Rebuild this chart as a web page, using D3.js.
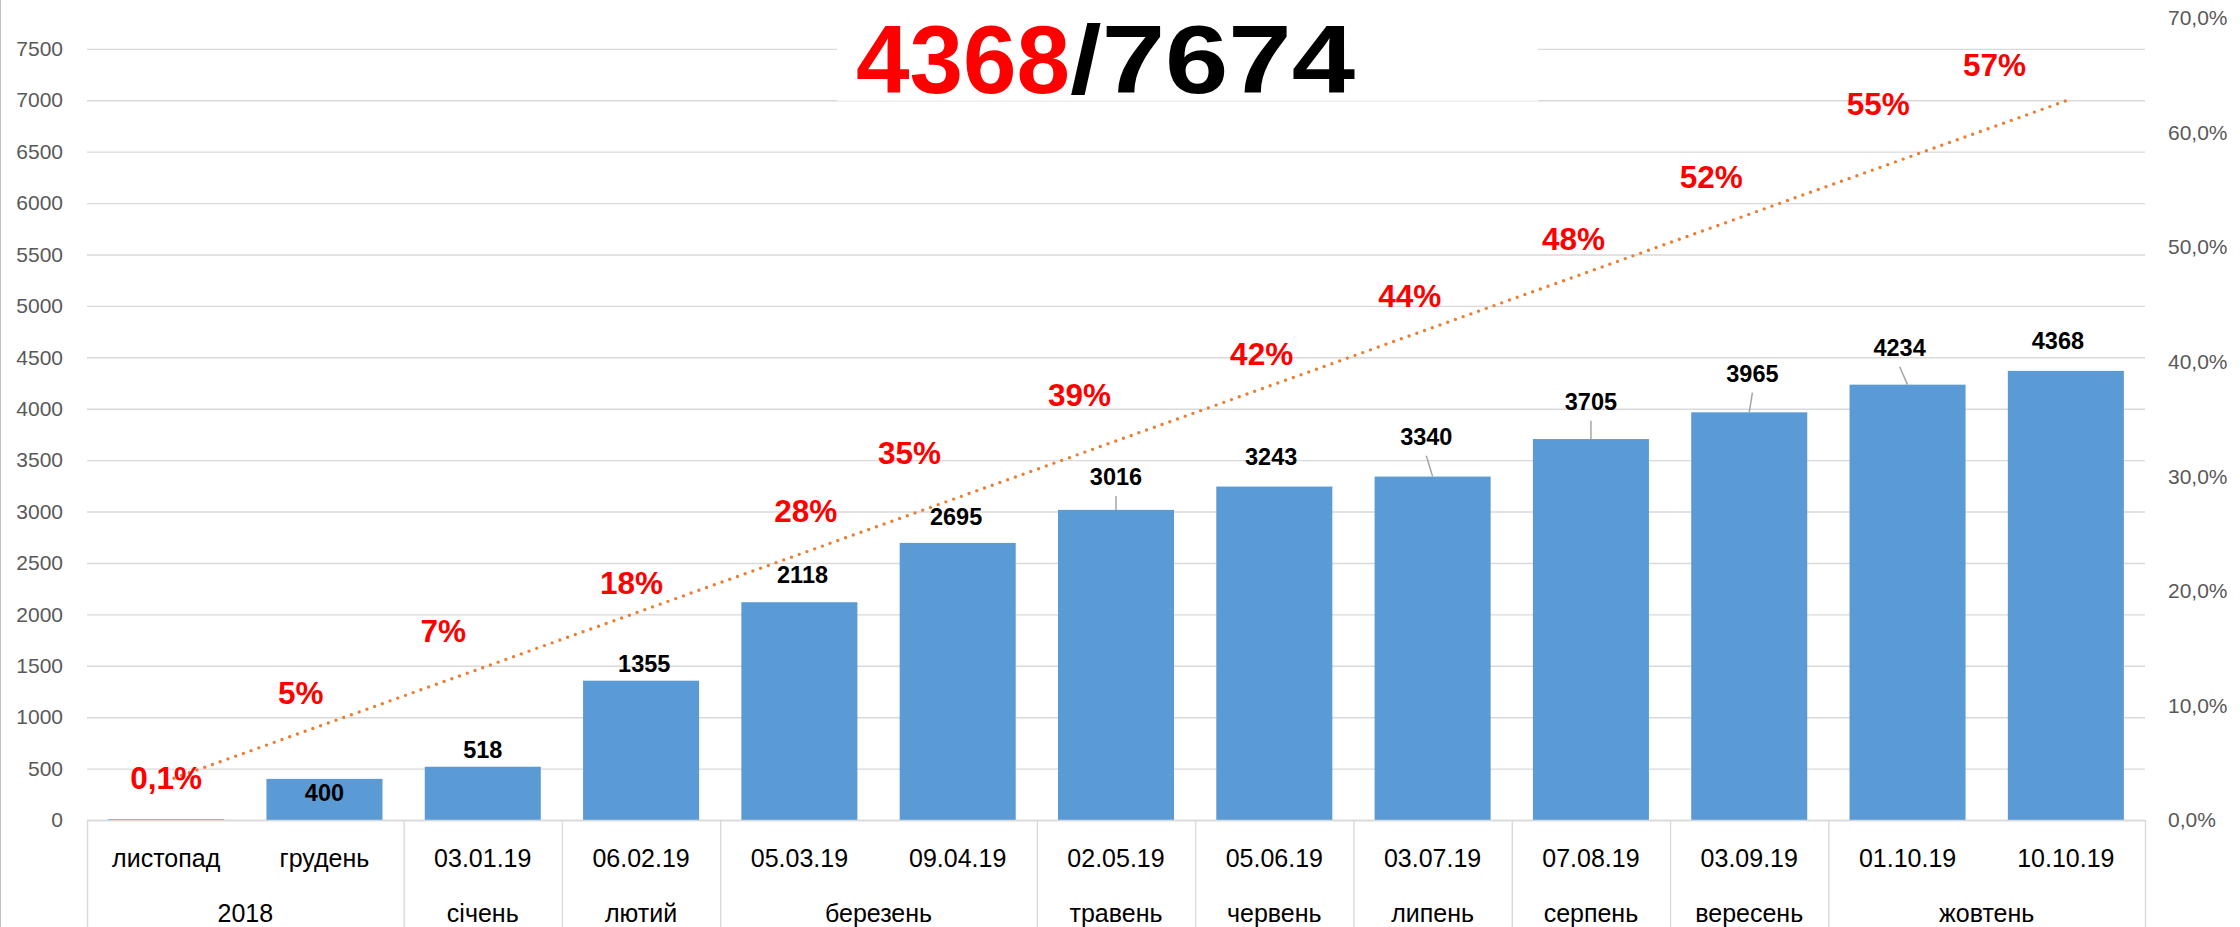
<!DOCTYPE html>
<html>
<head>
<meta charset="utf-8">
<script src="https://cdn.jsdelivr.net/npm/d3@7"></script>
<style>
  html, body { margin: 0; padding: 0; background: #fff; }
  svg { display: block; font-family: 'Liberation Sans', Arial, sans-serif; }
</style>
</head>
<body>
<div id="chart"></div>
<script>
// category labels (first level) and month groups (second level)
const categories = ["листопад", "грудень", "03.01.19", "06.02.19", "05.03.19", "09.04.19",
  "02.05.19", "05.06.19", "03.07.19", "07.08.19", "03.09.19", "01.10.19", "10.10.19"]
const groupNames = ["2018", "січень", "лютий", "березень", "травень", "червень",
  "липень", "серпень", "вересень", "жовтень"]
const groupSizes = [2, 1, 1, 2, 1, 1, 1, 1, 1, 2]

// cumulative count and share of the goal, %
const counts = [8, 400, 518, 1355, 2118, 2695, 3016, 3243, 3340, 3705, 3965, 4234, 4368]
const sharePct = [0.1, 5, 7, 18, 28, 35, 39, 42, 44, 48, 52, 55, 57]
const goal = 7674

const leftTicks = [0, 500, 1000, 1500, 2000, 2500, 3000, 3500, 4000, 4500, 5000, 5500, 6000, 6500, 7000, 7500]
const rightTicks = [0, 10, 20, 30, 40, 50, 60, 70]

// where the (hand placed) labels sit, in axis units / shift in category steps
const countLabelAt = [null, 263, 681, 1522, 2383, 2947, 3336, 3530, 3728, 4068, 4341, 4593, 4659]
const countLabelShift = [0, 0, 0, 0.02, 0.02, -0.01, 0, -0.02, -0.04, 0, 0.02, -0.05, -0.05]
const pctLabelAt = [3.67, 11.08, 16.54, 20.73, 26.94, 32.03, 37.1, 40.67, 45.76, 50.71, 56.12, 62.49, 65.9]
const pctLabelShift = [0, -0.15, -0.25, -0.06, 0.04, -0.305, -0.23, -0.08, -0.145, -0.11, -0.24, -0.185, -0.45]

let width = 2240
let height = 927
let plot = {left: 87, right: 2145, top: 18, bottom: 820}

let svg = d3.select('#chart').append('svg')
  .attr('width', width)
  .attr('height', height)

let idx = d3.range(categories.length)
let x = d3.scaleBand().domain(idx).range([plot.left, plot.right]).paddingInner(0.267).paddingOuter(0.1335)
let yL = d3.scaleLinear().domain([0, 7800]).range([plot.bottom, plot.top])
let yR = d3.scaleLinear().domain([0, 70]).range([plot.bottom, plot.top])
let cx = i => x(i) + x.bandwidth() / 2

// left border of the chart frame
svg.append('line').attr('x1', 0.5).attr('x2', 0.5).attr('y1', 0).attr('y2', height)
  .attr('stroke', '#bfbfbf').attr('stroke-width', 1)

// left axis + gridlines
let gl = svg.append('g')
  .attr('transform', 'translate(' + plot.left + ',0)')
  .call(d3.axisLeft(yL).tickValues(leftTicks).tickSize(-(plot.right - plot.left)).tickPadding(24)
    .tickFormat(d3.format('d')))
gl.select('.domain').remove()
gl.selectAll('.tick line').attr('stroke', '#d9d9d9').attr('stroke-width', 1.4)
gl.selectAll('.tick text').attr('fill', '#595959').style('font-size', '21px')

// right axis (percent)
let gr = svg.append('g')
  .attr('transform', 'translate(' + plot.right + ',0)')
  .call(d3.axisRight(yR).tickValues(rightTicks).tickSize(0).tickPadding(23)
    .tickFormat(d => d3.format('.1f')(d).replace('.', ',') + '%'))
gr.select('.domain').remove()
gr.selectAll('.tick text').attr('fill', '#595959').style('font-size', '21px')

// bars
svg.selectAll('.bar')
  .data(counts)
  .enter()
  .append('rect')
  .attr('class', 'bar')
  .attr('x', (d, i) => x(i))
  .attr('y', d => yL(d))
  .attr('width', x.bandwidth())
  .attr('height', d => yL(0) - yL(d))
  .attr('fill', '#5b9bd5')

// category axis: line, two rows of labels, group separators
svg.append('line')
  .attr('x1', plot.left).attr('x2', plot.right)
  .attr('y1', plot.bottom + 0.5).attr('y2', plot.bottom + 0.5)
  .attr('stroke', '#d9d9d9').attr('stroke-width', 1.4)

let gx = svg.append('g')
  .attr('transform', 'translate(0,' + 858 + ')')
  .call(d3.axisBottom(x).tickSize(0).tickPadding(0).tickFormat(i => categories[i]))
gx.select('.domain').remove()
gx.selectAll('.tick text').attr('fill', '#000').attr('dy', '0.35em').attr('y', 0).style('font-size', '25px')

let bounds = [0]
groupSizes.forEach(s => bounds.push(bounds[bounds.length - 1] + s))
let edge = i => plot.left + i * x.step()

svg.selectAll('.sep')
  .data(bounds)
  .enter()
  .append('line')
  .attr('class', 'sep')
  .attr('x1', d => edge(d) + 0.5).attr('x2', d => edge(d) + 0.5)
  .attr('y1', plot.bottom).attr('y2', height)
  .attr('stroke', '#d9d9d9').attr('stroke-width', 1.4)

svg.selectAll('.grp')
  .data(groupNames)
  .enter()
  .append('text')
  .attr('class', 'grp')
  .attr('x', (d, i) => (edge(bounds[i]) + edge(bounds[i + 1])) / 2)
  .attr('y', 913)
  .attr('dy', '0.35em')
  .attr('text-anchor', 'middle')
  .style('font-size', '25px')
  .attr('fill', '#000')
  .text(d => d)

// linear trendline of the share series
let xs = idx.map(i => i + 1)
let mx = d3.mean(xs), my = d3.mean(sharePct)
let slope = d3.sum(xs, (v, i) => (v - mx) * (sharePct[i] - my)) / d3.sum(xs, v => (v - mx) * (v - mx))
let icpt = my - slope * mx
let trend = idx.map(i => ({i: i, v: icpt + slope * (i + 1)}))

svg.append('path')
  .datum(trend)
  .attr('d', d3.line().x(d => cx(d.i)).y(d => yR(d.v)))
  .attr('fill', 'none')
  .attr('stroke', '#ed7d31')
  .attr('stroke-width', 3.4)
  .attr('stroke-linecap', 'round')
  .attr('stroke-dasharray', '0 8.2')

// count labels with leader lines
counts.forEach((c, i) => {
  if (countLabelAt[i] == null) return
  let lx = cx(i) + countLabelShift[i] * x.step()
  let ly = yL(countLabelAt[i])
  let top = yL(c)
  if (top - ly > 31) {
    svg.append('line')
      .attr('x1', lx).attr('y1', ly + 19)
      .attr('x2', cx(i)).attr('y2', top)
      .attr('stroke', '#a6a6a6').attr('stroke-width', 1.5)
  }
  svg.append('text')
    .attr('x', lx).attr('y', ly)
    .attr('dy', '0.35em')
    .attr('text-anchor', 'middle')
    .style('font-size', '23.5px')
    .style('font-weight', 'bold')
    .attr('fill', '#000')
    .text(c)
})

// share labels
let pctFmt = v => (v < 1 ? d3.format('.1f')(v) : d3.format('.0f')(v)).replace('.', ',') + '%'
svg.selectAll('.pct')
  .data(sharePct)
  .enter()
  .append('text')
  .attr('class', 'pct')
  .attr('x', (d, i) => cx(i) + pctLabelShift[i] * x.step())
  .attr('y', (d, i) => yR(pctLabelAt[i]))
  .attr('dy', '0.35em')
  .attr('text-anchor', 'middle')
  .style('font-size', '31.5px')
  .style('font-weight', 'bold')
  .attr('fill', '#ff0000')
  .text(d => pctFmt(d))

// title box
svg.append('rect')
  .attr('x', 837).attr('y', 0).attr('width', 701).attr('height', 101)
  .attr('fill', '#fff')
svg.append('line')
  .attr('x1', 837).attr('x2', 1538).attr('y1', 101).attr('y2', 101)
  .attr('stroke', '#f0f0f0').attr('stroke-width', 1)

svg.append('text')
  .attr('x', 856).attr('y', 93)
  .attr('textLength', 214).attr('lengthAdjust', 'spacingAndGlyphs')
  .style('font-size', '96px').style('font-weight', 'bold')
  .attr('fill', '#ff0000')
  .text(counts[counts.length - 1])
svg.append('text')
  .attr('x', 1070).attr('y', 93)
  .attr('textLength', 285).attr('lengthAdjust', 'spacingAndGlyphs')
  .style('font-size', '96px').style('font-weight', 'bold')
  .attr('fill', '#000')
  .text('/' + goal)
</script>
</body>
</html>
